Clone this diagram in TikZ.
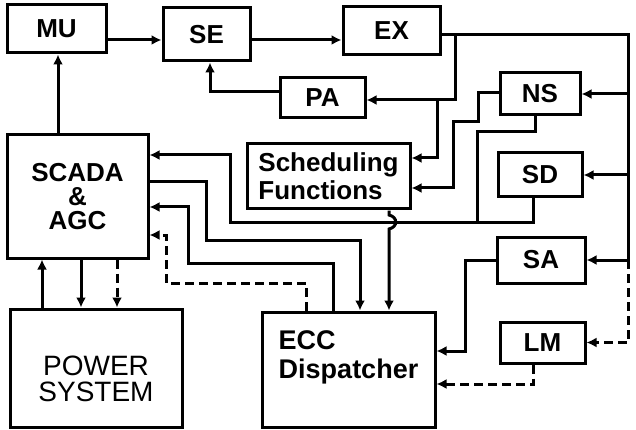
\documentclass[tikz,border=0pt]{standalone}
\usepackage{fontspec}
\setmainfont{Liberation Sans}
\usetikzlibrary{arrows.meta}
\definecolor{dInk}{RGB}{0,0,0}
\tikzset{
  blk/.style={rectangle, draw=dInk, line width=3pt, inner sep=0pt, align=center,
              font=\fontsize{26}{27}\selectfont\bfseries},
  flow/.style={-{Latex[length=10pt,width=10pt]}, draw=dInk, line width=3pt},
  flowd/.style={flow, dash pattern=on 9pt off 5pt},
  wire/.style={draw=dInk, line width=3pt},
}

\begin{document}
\begin{tikzpicture}[x=1pt, y=-1pt]
  \useasboundingbox (0,0) rectangle (636,430);
  % --- top row ---
  \node[blk, minimum width=99pt, minimum height=48pt] (mu) at (56.5,29) {MU};
  \node[blk, minimum width=87pt, minimum height=53pt] (se) at (206.5,34.5) {SE};
  \node[blk, minimum width=97pt, minimum height=48pt] (ex) at (391.5,31) {EX};
  \node[blk, minimum width=85pt, minimum height=40pt] (pa) at (322.5,98) {PA};

  % --- study functions on the right ---
  \node[blk, minimum width=80pt, minimum height=42pt] (ns) at (540,94) {NS};
  \node[blk, minimum width=84pt, minimum height=44pt] (sd) at (540,175) {SD};
  \node[blk, minimum width=88pt, minimum height=46pt] (sa) at (541,260) {SA};
  \node[blk, minimum width=85pt, minimum height=41pt] (lm) at (542.5,342.5) {LM};

  % --- main blocks ---
  \node[blk, minimum width=163pt, minimum height=65pt, align=left,
        font=\fontsize{26}{28}\selectfont\bfseries] (sched) at (328.5,176.5) {Scheduling\\Functions};
  \node[blk, minimum width=141pt, minimum height=123pt,
        font=\fontsize{26}{24}\selectfont\bfseries] (scada) at (77.5,196.5) {SCADA\\\&\\AGC};
  \node[blk, minimum width=172pt, minimum height=118pt, text height=68pt,
        font=\fontsize{28}{26}\selectfont] (power) at (96,368) {POWER\\SYSTEM};
  \node[blk, minimum width=173pt, minimum height=115pt, align=left, text depth=29pt,
        font=\fontsize{27}{29}\selectfont\bfseries] (ecc) at (348.5,369.5) {ECC\\Dispatcher};

  % --- bus points ---
  \coordinate (rbus) at (628,0);
  \coordinate (extap) at (455,35);
  \coordinate (patap) at (437,100);
  \coordinate (sdbus) at (477,222);
  \coordinate (satap) at (628,260);

  % --- estimation chain ---
  \draw[flow] (scada.north -| 58,0) -- (mu.south -| 58,0);
  \draw[flow] (mu.east |- 0,40) -- (se.west |- 0,40);
  \draw[flow] (se.east |- 0,40) -- (ex.west |- 0,40);
  \draw[flow] (pa.west |- 0,92) -| (se.south -| 210,0);

  % --- EX out to the right column ---
  \draw[flow] (ex.east |- 0,35) -| (satap) -- (sa.east);
  \draw[flow] (ns.east -| rbus) -- (ns.east);
  \draw[flow] (sd.east -| rbus) -- (sd.east);
  \draw[flowd] (satap) |- (lm.east);
  \draw[flow] (extap) |- (pa.east |- patap);
  \draw[flow] (patap) |- (sched.east |- 0,158);

  % --- NS / SD back to scheduling and SCADA ---
  \draw[flow] (ns.west |- 0,93) -| (478,122) -| (453,188) -- (sched.east |- 0,188);
  \draw[wire] (ns.south -| 535,0) |- (477,132) -- (sdbus);
  \draw[flow] (sd.south -| 533,0) |- (230,222) |- (scada.east |- 0,155);

  % --- SCADA <-> ECC ---
  \draw[flow] (scada.east |- 0,182) -| (206,240) -| (ecc.north -| 360,0);
  \draw[flow] (ecc.north -| 333,0) |- (188,263) |- (scada.east |- 0,207);
  \draw[flowd] (ecc.north -| 306,0) |- (166,283) |- (scada.east |- 0,235);
  \draw[flow] (sched.south -| 389,0) -- (389,215)
    .. controls (398,217) and (398,227) .. (389,229) -- (ecc.north -| 389,0);

  % --- SA / LM to ECC ---
  \draw[flow] (sa.west) -| (465,351) -- (ecc.east |- 0,351);
  \draw[flowd] (lm.south -| 533,0) |- (ecc.east |- 0,384);

  % --- SCADA <-> power system ---
  \draw[flow] (power.north -| 42,0) -- (scada.south -| 42,0);
  \draw[flow] (scada.south -| 81,0) -- (power.north -| 81,0);
  \draw[flowd] (scada.south -| 117,0) -- (power.north -| 117,0);
\end{tikzpicture}
\end{document}
